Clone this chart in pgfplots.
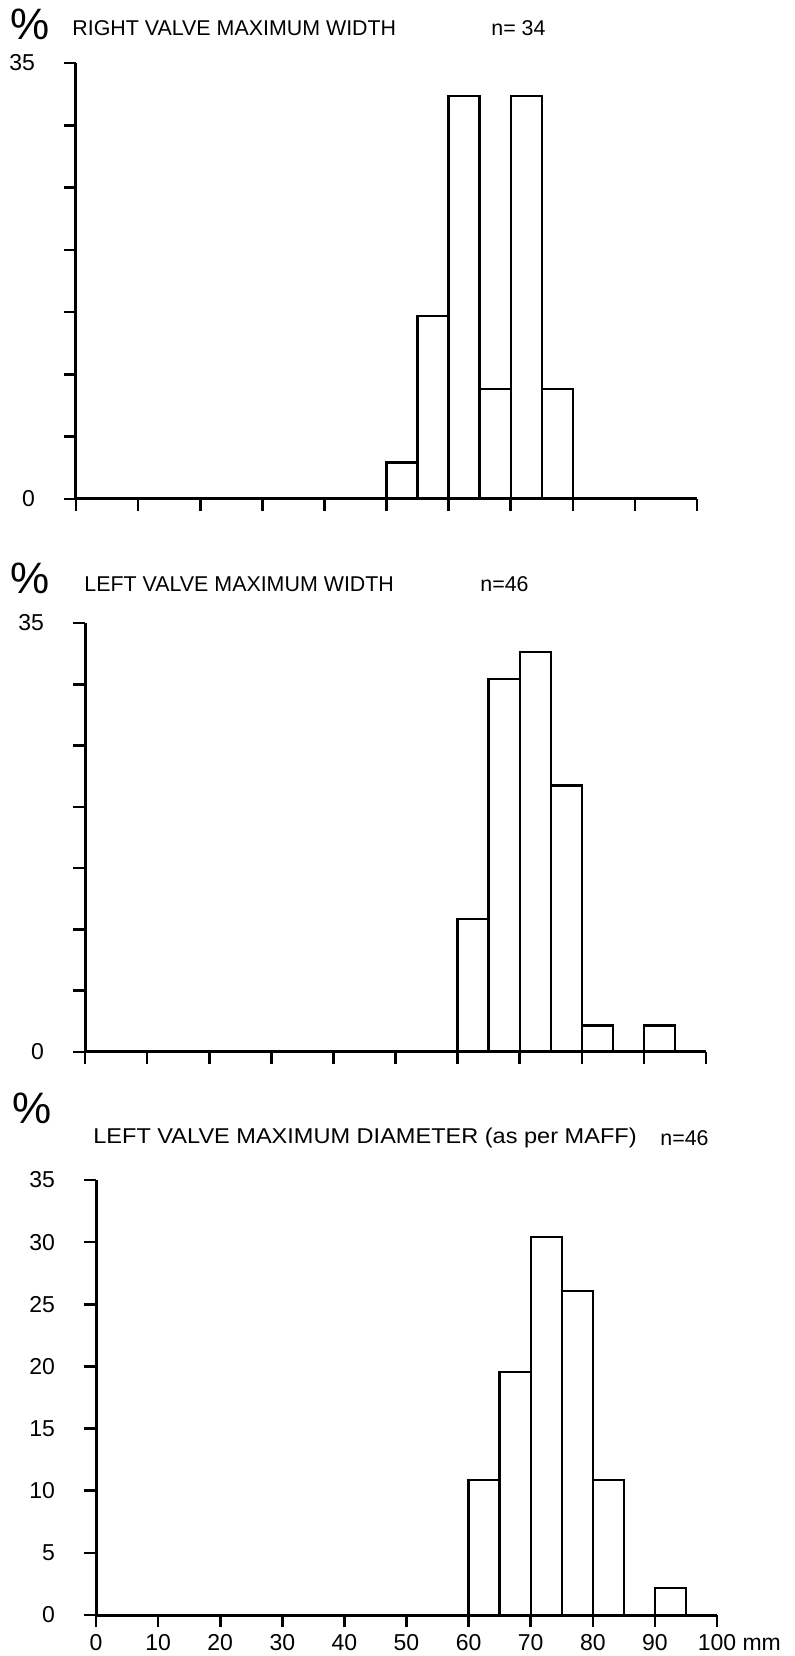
\documentclass[border=0pt]{standalone}
\usepackage{pgfplots}
\pgfplotsset{compat=1.18}
\usepackage{fontspec}
\setmainfont{Liberation Sans}
\begin{document}
\begin{tikzpicture}
\path[use as bounding box] (0,0) rectangle (397.5pt,828pt);
\pgfplotsset{hist/.style={
  scale only axis, width=310.5pt, xmin=0, xmax=100, ymin=0, ymax=35,
  axis lines=left, axis line style={line width=1.5pt,-},
  axis on top,
  xtick={0,10,...,100}, ytick={0,5,...,35},
  tick align=outside, major tick length=6pt,
  tick style={line width=1.3pt,black},
  yticklabel style={xshift=-11pt},
  ticklabel style={font=\fontsize{11.5}{13}\selectfont},
  /pgf/number format/assume math mode=true, clip=false,
  anchor=south west}}
\tikzset{ttl/.style={anchor=west,inner sep=0pt,font=\fontsize{10.7}{12}\selectfont},
  pct/.style={inner sep=0pt,font=\fontsize{22}{24}\selectfont}}
% Panel 1
\begin{axis}[hist, at={(38pt,578.5pt)}, height=218pt,
  yticklabels={0,,,,,,,35}, xticklabels={}]
\addplot[ybar interval, draw=black, fill=white, line width=1.2pt]
 coordinates {(50,2.94)(55,14.71)(60,32.35)(65,8.82)(70,32.35)(75,8.82)(80,0)};
\end{axis}
\node[pct] at (15pt,816pt) {\%};
\node[ttl] at (36pt,814pt) {RIGHT VALVE MAXIMUM WIDTH};
\node[ttl] at (245.5pt,814pt) {n= 34};
% Panel 2
\begin{axis}[hist, at={(42.5pt,302pt)}, height=214.5pt,
  yticklabels={0,,,,,,,35}, xticklabels={}]
\addplot[ybar interval, draw=black, fill=white, line width=1.2pt]
 coordinates {(60,10.87)(65,30.43)(70,32.61)(75,21.74)(80,2.17)(85,0)(90,2.17)(95,0)};
\end{axis}
\node[pct] at (15pt,539pt) {\%};
\node[ttl] at (42pt,536pt) {LEFT VALVE MAXIMUM WIDTH};
\node[ttl] at (240pt,536pt) {n=46};
% Panel 3
\begin{axis}[hist, at={(48pt,20.5pt)}, height=217.5pt,
  yticklabels={0,5,10,15,20,25,30,35},
  xticklabels={0,10,20,30,40,50,60,70,80,90,{100\rlap{ mm}}}]
\addplot[ybar interval, draw=black, fill=white, line width=1.2pt]
 coordinates {(60,10.87)(65,19.57)(70,30.43)(75,26.09)(80,10.87)(85,0)(90,2.17)(95,0)};
\end{axis}
\node[pct] at (16pt,274pt) {\%};
\node[ttl] at (46.5pt,259pt) {\scalebox{1.1}[1]{LEFT VALVE MAXIMUM DIAMETER (as per MAFF)}};
\node[ttl] at (330pt,259pt) {n=46};
\end{tikzpicture}
\end{document}
